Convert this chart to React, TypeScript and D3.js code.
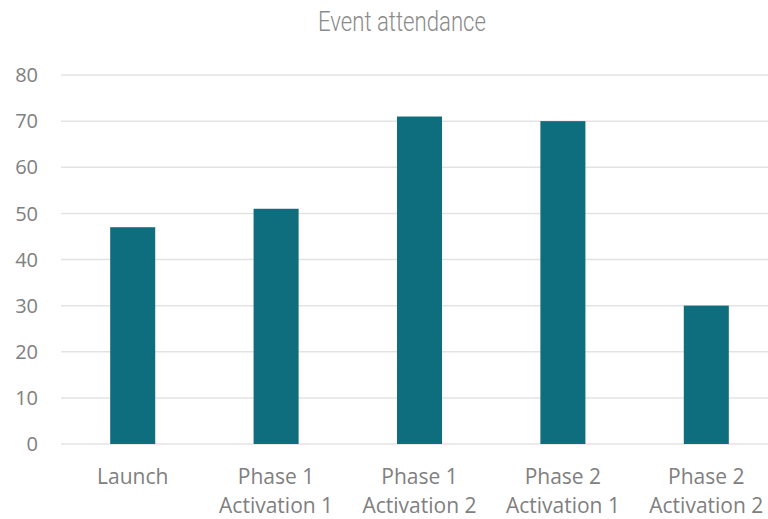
import React from "react";
import * as d3 from "d3";

const categories: string[][] = [
  ["Launch"],
  ["Phase 1", "Activation 1"],
  ["Phase 1", "Activation 2"],
  ["Phase 2", "Activation 1"],
  ["Phase 2", "Activation 2"],
];
const attendance: number[] = [47, 51, 71, 70, 30];
const yTicks: number[] = [0, 10, 20, 30, 40, 50, 60, 70, 80];
const title = "Event attendance";

const W = 768;
const H = 519;
const plotLeft = 61;
const plotRight = 778;
const plotTop = 75;
const plotBottom = 444;
const barColor = "#0f6e7e";
const textColor = "#808080";
const gridColor = "#e3e3e3";

export default function App() {
  const x = d3
    .scaleBand<number>()
    .domain(d3.range(categories.length))
    .range([plotLeft, plotRight])
    .paddingInner(0.686)
    .paddingOuter(0.343);
  const y = d3.scaleLinear().domain([0, 80]).range([plotBottom, plotTop]);

  return (
    <svg
      width={W}
      height={H}
      style={{ position: "absolute", left: 0, top: 0, background: "#fff" }}
      fontFamily="'Open Sans', sans-serif"
    >
      <text
        x={402}
        y={31}
        textAnchor="middle"
        fontFamily="Roboto, sans-serif"
        fontWeight={300}
        fontSize={27}
        fill="#8a8a8a"
        textLength={168}
        lengthAdjust="spacingAndGlyphs"
      >
        {title}
      </text>

      {yTicks.map((t) => (
        <g key={t}>
          <line
            x1={plotLeft}
            x2={W}
            y1={y(t)}
            y2={y(t)}
            stroke={gridColor}
            strokeWidth={1.5}
          />
          <text
            x={38}
            y={y(t)}
            dy="0.36em"
            textAnchor="end"
            fontSize={20}
            fill={textColor}
          >
            {t}
          </text>
        </g>
      ))}

      {attendance.map((v, i) => (
        <rect
          key={i}
          x={x(i)}
          y={y(v)}
          width={x.bandwidth()}
          height={y(0) - y(v)}
          fill={barColor}
        />
      ))}

      {categories.map((lines, i) => (
        <text
          key={i}
          x={(x(i) ?? 0) + x.bandwidth() / 2}
          y={484}
          textAnchor="middle"
          fontSize={21}
          fill={textColor}
        >
          {lines.map((l, j) => (
            <tspan key={j} x={(x(i) ?? 0) + x.bandwidth() / 2} dy={j === 0 ? 0 : 28.5}>
              {l}
            </tspan>
          ))}
        </text>
      ))}
    </svg>
  );
}
